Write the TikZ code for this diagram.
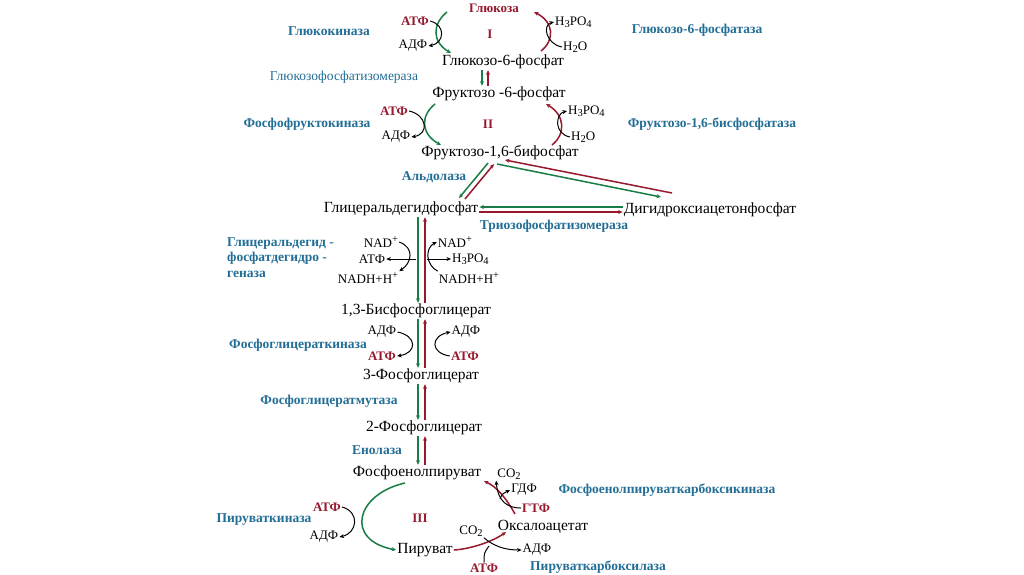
\documentclass[tikz,border=0pt]{standalone}
\usepackage{fontspec}
\setmainfont{Liberation Serif}
\usetikzlibrary{arrows.meta}
\definecolor{enz}{RGB}{35,110,150}
\definecolor{rd}{RGB}{150,25,45}
\definecolor{gr}{RGB}{25,125,70}
\newcommand{\mysub}[1]{\raisebox{-0.4ex}{\fontsize{10.5}{11}\selectfont #1}}
\newcommand{\mysup}[1]{\raisebox{0.9ex}{\fontsize{10.5}{11}\selectfont #1}}
\begin{document}
\begin{tikzpicture}[x=1pt,y=-1pt,
  met/.style={font=\fontsize{15.5}{17}\selectfont, inner sep=1pt},
  cof/.style={font=\fontsize{13}{15}\selectfont, inner sep=1pt},
  enzl/.style={font=\fontsize{13.5}{16}\selectfont\bfseries, text=enz, inner sep=1pt},
  enzr/.style={font=\fontsize{13.5}{16}\selectfont, text=enz, inner sep=1pt},
  redl/.style={font=\fontsize{13}{15}\selectfont\bfseries, text=rd, inner sep=1pt},
  tip/.style={-{Stealth[length=4.5pt,width=4pt]}},
  gline/.style={draw=gr, line width=1.5pt, tip},
  rline/.style={draw=rd, line width=1.5pt, tip},
  bline/.style={draw=black, line width=1pt, tip},
  bplain/.style={draw=black, line width=1pt},
]
\useasboundingbox[fill=white] (0,0) rectangle (1024,574);
\coordinate (gx) at (418,0);
\coordinate (rx) at (425,0);

% ---------- Stage I ----------
\node[redl] (glc) at (494,8) {Глюкоза};
\node[enzl] (gk) at (329,31) {Глюкокиназа};
\node[redl] (atp1) at (415,21) {АТФ};
\node[cof] (adp1) at (413,46) {АДФ};
\node[redl] (r1) at (490,34) {I};
\node[cof,anchor=west] (pi1) at (554,22) {H\mysub{3}PO\mysub{4}};
\node[cof,anchor=west] (h2o1) at (562,47) {H\mysub{2}O};
\node[enzl] (g6pase) at (697,30) {Глюкозо-6-фосфатаза};
\node[met] (g6p) at (503,62) {Глюкозо-6-фосфат};
\node[enzr] (gpi) at (344,77) {Глюкозофосфатизомераза};
\node[met] (f6p) at (499,94) {Фруктозо -6-фосфат};

\coordinate (g1a) at (447,12);
\coordinate (g1b) at (451,53);
\draw[gline] (g1a) .. controls (432,24) and (432,42) .. (g1b);
\draw[bline] (atp1.east) .. controls +(16,4) and +(16,-3) .. (adp1.east);
\coordinate (r1a) at (541,51);
\coordinate (r1b) at (534,12);
\draw[rline] (r1a) .. controls (555,40) and (554,22) .. (r1b);
\draw[bline] (h2o1.west) .. controls +(-16,-3) and +(-12,3) .. (pi1.west);

\draw[gline] (g6p.south -| 482,0) -- (f6p.north -| 482,0);
\draw[rline] (f6p.north -| 488,0) -- (g6p.south -| 488,0);

% ---------- Stage II ----------
\node[enzl] (pfk) at (307,124) {Фосфофруктокиназа};
\node[redl] (atp2) at (394,111) {АТФ};
\node[cof] (adp2) at (396,137) {АДФ};
\node[redl] (r2) at (488,124) {II};
\node[cof,anchor=west] (pi2) at (567,111) {H\mysub{3}PO\mysub{4}};
\node[cof,anchor=west] (h2o2) at (570,137) {H\mysub{2}O};
\node[enzl] (fbpase) at (712,124) {Фруктозо-1,6-бисфосфатаза};
\node[met] (fbp) at (500,153) {Фруктозо-1,6-бифосфат};

\coordinate (g2a) at (435,104);
\coordinate (g2b) at (441,145);
\draw[gline] (g2a) .. controls (420,116) and (421,134) .. (g2b);
\draw[bline] (atp2.east) .. controls +(18,4) and +(18,-3) .. (adp2.east);
\coordinate (r2a) at (552,145);
\coordinate (r2b) at (546,104);
\draw[rline] (r2a) .. controls (566,134) and (565,115) .. (r2b);
\draw[bline] (h2o2.west) .. controls +(-16,-3) and +(-12,3) .. (pi2.west);

% ---------- Aldolase / TPI ----------
\node[enzl] (ald) at (434,177) {Альдолаза};
\node[met] (gap) at (401,209) {Глицеральдегидфосфат};
\node[met] (dhap) at (710,210) {Дигидроксиацетонфосфат};
\node[enzl] (tpi) at (554,226) {Триозофосфатизомераза};

\coordinate (a1) at (488,163);
\coordinate (a2) at (459,198);
\coordinate (a3) at (465,199);
\coordinate (a4) at (494,164);
\draw[gline] (a1) -- (a2);
\draw[rline] (a3) -- (a4);
\coordinate (d1) at (497,164);
\coordinate (d2) at (661,197);
\coordinate (d3) at (672,193);
\coordinate (d4) at (505,160);
\draw[gline] (d1) -- (d2);
\draw[rline] (d3) -- (d4);
\draw[gline] (dhap.west |- 0,207) -- (gap.east |- 0,207);
\draw[rline] (gap.east |- 0,212) -- (dhap.west |- 0,212);

% ---------- GAPDH ----------
\node[enzl, align=left, anchor=north west, font=\fontsize{13.5}{15.5}\selectfont\bfseries] (gapdh) at (226,236) {Глицеральдегид -\\фосфатдегидро -\\геназа};
\node[cof] (nad1) at (381,242) {NAD\mysup{+}};
\node[cof] (nad2) at (455,242) {NAD\mysup{+}};
\node[cof] (atp3) at (372,259) {АТФ};
\node[cof,anchor=west] (pi3) at (451,259) {H\mysub{3}PO\mysub{4}};
\node[cof] (nadh1) at (368,278) {NADH+H\mysup{+}};
\node[cof] (nadh2) at (469,278) {NADH+H\mysup{+}};
\node[met] (bpg) at (416,311) {1,3-Бисфосфоглицерат};

\draw[gline] (gap.south -| gx) -- (bpg.north -| gx);
\draw[rline] (bpg.north -| rx) -- (gap.south -| rx);
\draw[bline] (nad1.east) .. controls +(16,6) and +(12,-8) .. (nadh1.north east);
\draw[bline] (nadh2.north west) .. controls +(-12,-6) and +(-12,6) .. (nad2.west);
\draw[bline] (416,259) -- (atp3.east);
\draw[bline] (427,259) -- (pi3.west);

% ---------- PGK ----------
\node[enzl] (pgk) at (298,345) {Фосфоглицераткиназа};
\node[cof] (adp3) at (382,332) {АДФ};
\node[cof] (adp4) at (466,332) {АДФ};
\node[redl] (atp4a) at (382,356) {АТФ};
\node[redl] (atp4b) at (465,356) {АТФ};
\node[met] (pg3) at (421,376) {3-Фосфоглицерат};
\draw[gline] (bpg.south -| gx) -- (pg3.north -| gx);
\draw[rline] (pg3.north -| rx) -- (bpg.south -| rx);
\draw[bline] (adp3.east) .. controls +(20,4) and +(20,-3) .. (atp4a.east);
\draw[bline] (atp4b.west) .. controls +(-20,-3) and +(-20,4) .. (adp4.west);

% ---------- PGM, Enolase ----------
\node[enzl] (pgm) at (329,401) {Фосфоглицератмутаза};
\node[met] (pg2) at (424,428) {2-Фосфоглицерат};
\draw[gline] (pg3.south -| gx) -- (pg2.north -| gx);
\draw[rline] (pg2.north -| rx) -- (pg3.south -| rx);
\node[enzl] (eno) at (377,450) {Енолаза};
\node[met] (pep) at (417,473) {Фосфоенолпируват};
\draw[gline] (pg2.south -| gx) -- (pep.north -| gx);
\draw[rline] (pep.north -| rx) -- (pg2.south -| rx);

% ---------- Stage III ----------
\node[cof] (co2a) at (509,474) {CO\mysub{2}};
\node[cof] (gdp) at (524,490) {ГДФ};
\node[enzl] (pepck) at (667,490) {Фосфоенолпируваткарбоксикиназа};
\node[redl] (gtp) at (536,508) {ГТФ};
\node[met] (oaa) at (543,527) {Оксалоацетат};
\node[redl] (r3) at (420,518) {III};
\node[redl] (atp5) at (327,507) {АТФ};
\node[cof] (adp5) at (324,537) {АДФ};
\node[enzl] (pk) at (264,520) {Пируваткиназа};
\node[met] (pyr) at (425,550) {Пируват};
\node[cof] (co2b) at (471,531) {CO\mysub{2}};
\node[cof] (adp6) at (537,550) {АДФ};
\node[redl] (atp6) at (484,568) {АТФ};
\node[enzl] (pc) at (598,567) {Пируваткарбоксилаза};

\coordinate (p1) at (405,483);
\draw[gline] (p1) .. controls (356,494) and (344,540) .. (pyr.west);
\draw[bline] (atp5.east) .. controls +(18,5) and +(18,-4) .. (adp5.east);
\coordinate (k1) at (515,514);
\coordinate (k2) at (484,481);
\draw[rline] (k1) .. controls (506,498) and (497,487) .. (k2);
\coordinate (k3) at (500,499);
\draw[bline] (gtp.west) .. controls (508,508) and (498,502) .. (co2a.south west);
\draw[bline] (k3) .. controls (502,494) .. (gdp.west);
\coordinate (c1) at (506,532);
\draw[rline] (pyr.east) .. controls (470,549) and (492,542) .. (c1);
\coordinate (c2) at (489,546);
\draw[bline] (co2b.south east) .. controls (488,541) and (498,550) .. (adp6.west);
\draw[bplain] (atp6.north) .. controls (484,553) .. (c2);
\end{tikzpicture}
\end{document}
